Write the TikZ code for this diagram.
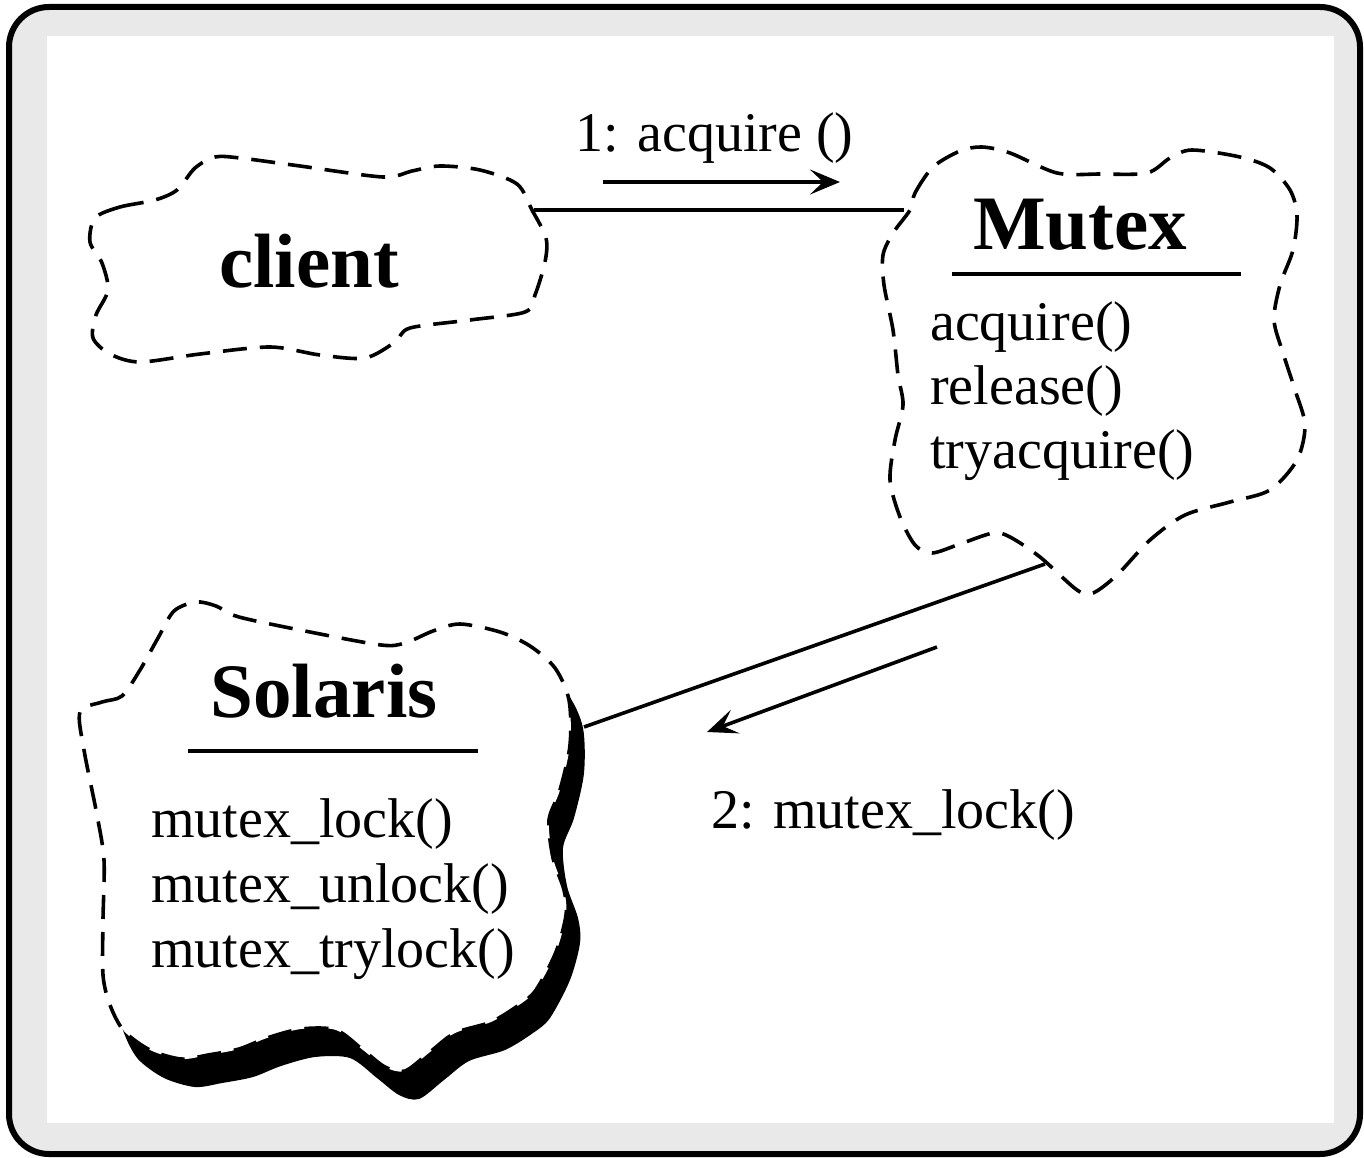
\documentclass[tikz,border=0pt]{standalone}
\usepackage{fontspec}
\setmainfont{Liberation Serif}
\usetikzlibrary{arrows.meta}
\definecolor{framegray}{RGB}{233,233,233}

\newcommand\solarisoutline{plot[smooth cycle, tension=0.5] coordinates {(80,712) (102,702) (122,696) (140,670) (158,638) (174,611) (196,602) (216,606) (239,617) (310,632) (381,645) (405,643) (433,631) (460,624) (500,632) (530,646) (555,668) (569,700) (570,745) (560,790) (549,820) (553,858) (564,890) (566,915) (556,952) (536,990) (519,1005) (491,1022) (455,1033) (430,1052) (405,1071) (385,1067) (363,1050) (336,1030) (301,1029) (267,1038) (239,1049) (208,1055) (181,1059) (150,1050) (124,1031) (110,1005) (103,975) (103,920) (104,860) (97,815) (84,750)}}

\begin{document}
\begin{tikzpicture}[x=1pt, y=-1pt,
	cloud/.style={line width=3.6pt, dash pattern=on 24pt off 13pt, fill=white},
	link/.style={line width=3.6pt},
	msg/.style={line width=3.6pt, -{Stealth[length=30pt,width=25pt,inset=13pt]}},
	title/.style={font=\fontsize{77}{80}\selectfont\bfseries, inner sep=0pt, anchor=base},
	op/.style={font=\fontsize{56}{65}\selectfont, inner sep=0pt, anchor=base west}]
	\useasboundingbox (0,0) rectangle (1364,1158);
	\draw[line width=6pt, fill=framegray, rounded corners=40pt] (9,7) rectangle (1360,1154);
	\fill[white] (47,36) rectangle (1334,1123);

	% client
	\draw[cloud] plot[smooth cycle, tension=0.5] coordinates {(95,218) (120,207) (155,200) (177,190) (195,168) (215,157) (240,158) (300,166) (383,177) (412,171) (440,166) (480,170) (517,184) (532,210) (546,238) (545,262) (535,295) (525,312) (470,320) (410,328) (395,342) (365,358) (320,355) (270,347) (200,354) (140,362) (110,354) (93,338) (96,315) (108,290) (102,263) (90,242)};
	\node[title] (client) at (309,287) {client};
	\coordinate (client-e) at (534,210);

	% Mutex
	\draw[cloud] plot[smooth cycle, tension=0.5] coordinates {(910,210) (915,193) (933,167) (960,151) (982,147) (1010,153) (1057,173) (1100,174) (1147,173) (1170,158) (1192,150) (1240,157) (1270,168) (1290,190) (1297,215) (1293,250) (1280,285) (1274,320) (1283,353) (1295,390) (1305,425) (1297,460) (1270,490) (1230,502) (1185,515) (1150,540) (1117,575) (1093,593) (1077,590) (1040,557) (1010,537) (993,533) (960,544) (932,553) (915,545) (900,517) (890,480) (895,440) (903,405) (898,375) (893,330) (884,285) (883,255) (893,233)};
	\node[title] (mutex) at (1080,250) {Mutex};
	\draw[line width=4pt] (952,274) -- (1241,274);
	\foreach \op [count=\i] in {acquire(), release(), tryacquire()}
		\node[op] (mutex-op\i) at (930,{340+64*(\i-1)}) {\op};
	\coordinate (mutex-w) at (904,210);
	\coordinate (mutex-s) at (1045,564);

	% Solaris, with its shadow
	\fill[shift={(14,28)}] \solarisoutline;
	\draw[cloud] \solarisoutline;
	\node[title] (solaris) at (324,717) {Solaris};
	\draw[line width=4pt] (188,751) -- (478,751);
	\foreach \op [count=\i] in {mutex\_lock(), mutex\_unlock(), mutex\_trylock()}
		\node[op] (solaris-op\i) at (151,{837+65*(\i-1)}) {\op};
	\coordinate (solaris-e) at (584,727);

	% links and messages
	\draw[link] (client-e) -- (mutex-w);
	\draw[link] (mutex-s) -- (solaris-e);

	\node[op] (acq-msg) at (575,152) {1: acquire ()};
	\coordinate (acq-from) at (603,182);
	\coordinate (acq-to) at (840,182);
	\draw[msg] (acq-from) -- (acq-to);

	\node[op] (lock-msg) at (711,828) {2: mutex\_lock()};
	\coordinate (lock-from) at (937,647);
	\coordinate (lock-to) at (707,732);
	\draw[msg] (lock-from) -- (lock-to);
\end{tikzpicture}
\end{document}
